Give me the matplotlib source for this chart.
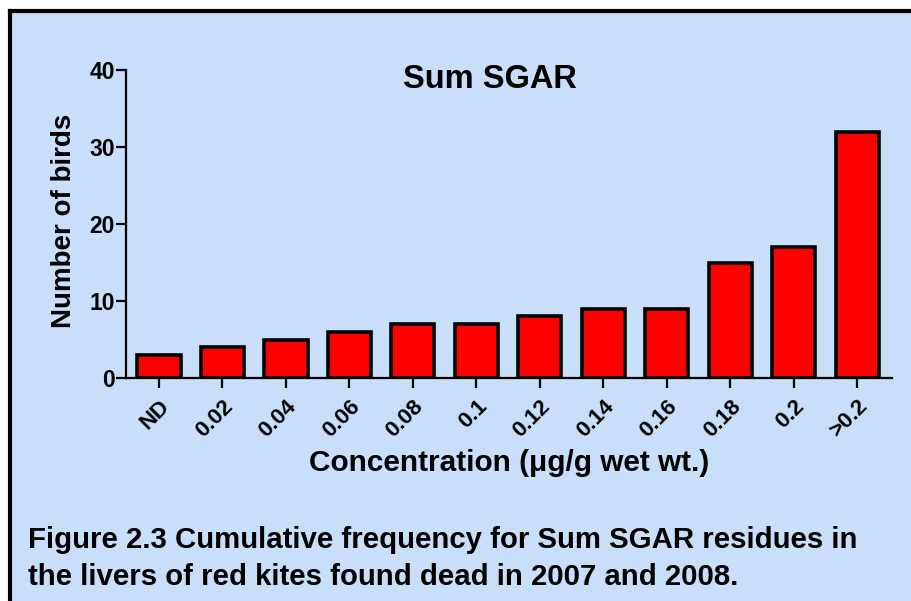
import matplotlib
matplotlib.use("Agg")
import matplotlib.pyplot as plt
from matplotlib.lines import Line2D
from matplotlib.patches import Rectangle

categories = ["ND", "0.02", "0.04", "0.06", "0.08", "0.1", "0.12", "0.14", "0.16", "0.18", "0.2", ">0.2"]
counts = [3, 4, 5, 6, 7, 7, 8, 9, 9, 15, 17, 32]
yticks = [0, 10, 20, 30, 40]

plt.rcParams['font.family'] = ['Liberation Sans', 'DejaVu Sans']
bg = '#C9DEF8'

fig = plt.figure(figsize=(9.12, 6.01), dpi=100, facecolor='white')
W, H = 912, 601
fig.patches.append(Rectangle((10/W, -0.01), 1.0, 1 - 10.5/H + 0.01, transform=fig.transFigure,
                             facecolor=bg, edgecolor='none', zorder=-10))
fig.lines.append(Line2D([10/W, 1.0], [1 - 10.5/H, 1 - 10.5/H], transform=fig.transFigure,
                        color='black', lw=3, zorder=-5))
fig.lines.append(Line2D([10/W, 10/W], [0, 1 - 10.5/H], transform=fig.transFigure,
                        color='black', lw=3, zorder=-5))

ax = fig.add_axes([126/W, 1 - 378/H, (892 - 126)/W, (378 - 70)/H])
ax.set_zorder(5)
ax.set_facecolor('none')
x = list(range(len(categories)))
ax.bar(x, counts, width=0.68, color='#FF0000', edgecolor='black', linewidth=2.6, zorder=3)
ax.set_xlim(-0.52, len(categories) - 1 + 0.55)
ax.set_ylim(0, 40)
ax.set_yticks(yticks)
ax.set_xticks(x)
ax.set_xticklabels(categories, rotation=45, ha='right', rotation_mode='anchor',
                   fontsize=16, fontweight='bold')
for lab in ax.get_yticklabels():
    lab.set_fontsize(16.5)
    lab.set_fontweight('bold')
for s in ['top', 'right']:
    ax.spines[s].set_visible(False)
for s in ['left', 'bottom']:
    ax.spines[s].set_linewidth(1.6)
ax.tick_params(axis='both', direction='out', length=7, width=1.6, pad=1)
ax.tick_params(axis='x', pad=6)
ax.set_ylabel('Number of birds', fontsize=20, fontweight='bold')
ax.yaxis.set_label_coords(-0.064, 0.511)
ax.set_xlabel('Concentration (\u03bcg/g wet wt.)', fontsize=21.4, fontweight='bold')
ax.xaxis.set_label_coords(0.5, -0.232)
fig.text(490/W, 1 - 88/H, 'Sum SGAR', ha='center', va='baseline',
         fontsize=23.5, fontweight='bold')

fig.text(28/W, 1 - 548/H, 'Figure 2.3 Cumulative frequency for Sum SGAR residues in',
         fontsize=21.2, fontweight='bold', ha='left', va='baseline')
fig.text(28/W, 1 - 585/H, 'the livers of red kites found dead in 2007 and 2008.',
         fontsize=21.2, fontweight='bold', ha='left', va='baseline')

fig.savefig('out.png', dpi=100, facecolor=fig.get_facecolor())
